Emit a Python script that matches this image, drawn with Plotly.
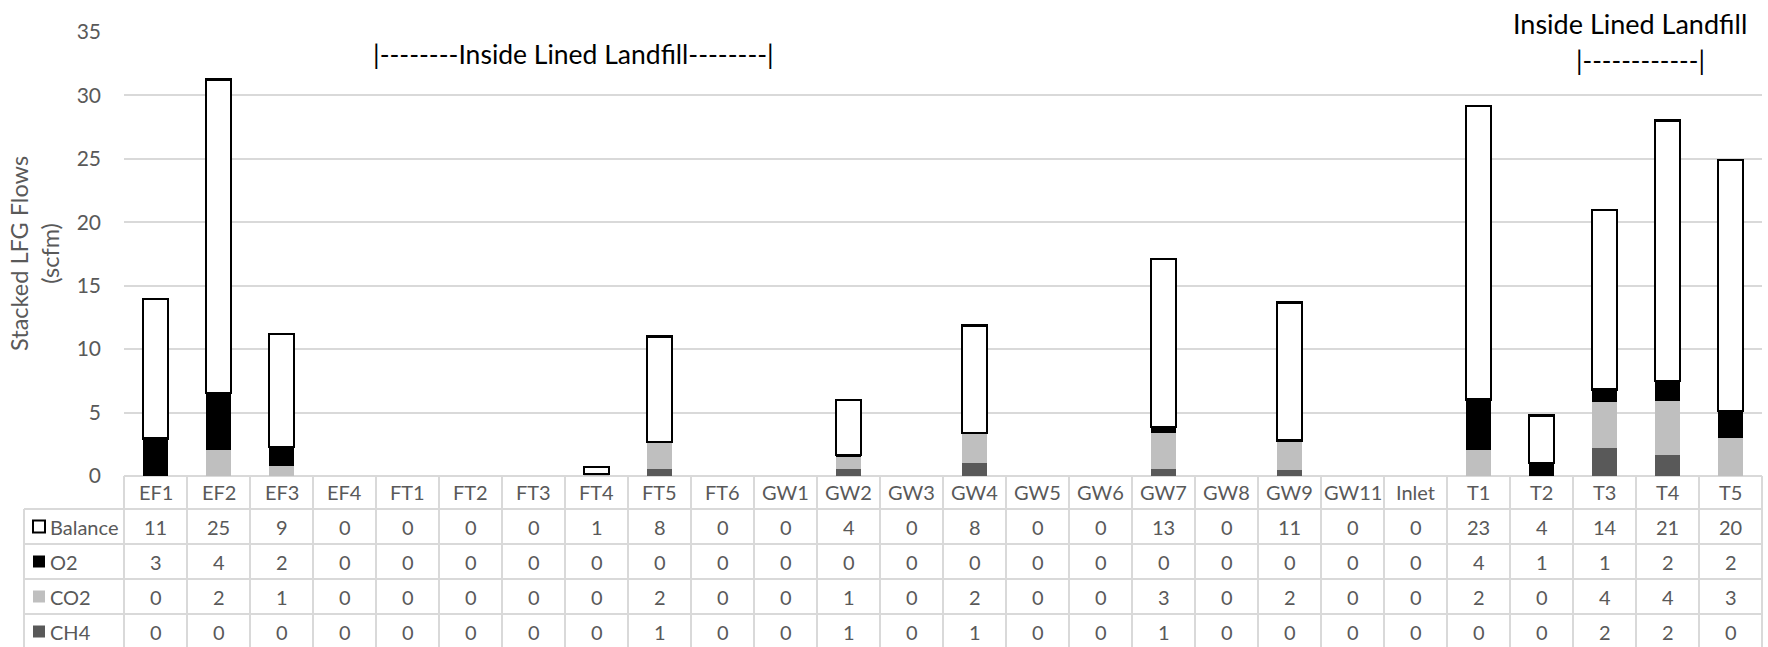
import plotly.graph_objects as go

categories = ["EF1", "EF2", "EF3", "EF4", "FT1", "FT2", "FT3", "FT4", "FT5", "FT6",
              "GW1", "GW2", "GW3", "GW4", "GW5", "GW6", "GW7", "GW8", "GW9", "GW11",
              "Inlet", "T1", "T2", "T3", "T4", "T5"]

ch4 = [0, 0, 0, 0, 0, 0, 0, 0, 0.52, 0,
       0, 0.52, 0, 1.0, 0, 0, 0.52, 0, 0.45, 0,
       0, 0, 0, 2.2, 1.63, 0]
co2 = [0, 2.07, 0.76, 0, 0, 0, 0, 0.15, 2.18, 0,
       0, 0.98, 0, 2.4, 0, 0, 2.9, 0, 2.36, 0,
       0, 2.02, 0, 3.6, 4.26, 3.0]
o2 = [2.94, 4.47, 1.52, 0, 0, 0, 0, 0, 0, 0,
      0, 0.15, 0, 0, 0, 0, 0.45, 0, 0, 0,
      0, 4.03, 1.02, 1.02, 1.58, 2.13]
balance = [11.0, 24.7, 8.9, 0, 0, 0, 0, 0.55, 8.3, 0,
           0, 4.35, 0, 8.47, 0, 0, 13.25, 0, 10.87, 0,
           0, 23.1, 3.75, 14.13, 20.55, 19.8]

series_names = ["Balance", "O2", "CO2", "CH4"]
y_ticks = [0, 5, 10, 15, 20, 25, 30, 35]

FONT = "Lato"
GREY_TXT = "#595959"
LINE = "#d9d9d9"
TFS = 20

# layout geometry (pixels)
W, H = 1768, 647
L, R, T, B = 124, 6, 32, 171
PW = W - L - R
PH = H - T - B
Y0 = T + PH  # pixel y of value 0


def py(Y):
    return (Y0 - Y) / PH


def px(X):
    return (X - L) / PW


def nz(v):
    return [x if x else None for x in v]


fig = go.Figure()
fig.add_trace(go.Bar(x=categories, y=nz(ch4), name="CH4", marker=dict(color="#595959", line=dict(width=0)), width=0.4))
fig.add_trace(go.Bar(x=categories, y=nz(co2), name="CO2", marker=dict(color="#bfbfbf", line=dict(width=0)), width=0.4))
fig.add_trace(go.Bar(x=categories, y=nz(o2), name="O2", marker=dict(color="#000000", line=dict(width=0)), width=0.4))
fig.add_trace(go.Bar(x=categories, y=nz(balance), name="Balance",
                     marker=dict(color="#ffffff", line=dict(color="#000000", width=2.5)), width=0.4))

shapes = []
annotations = []

# table geometry
row_edges = [Y0, 509, 544, 579, 614, 649]
n = len(categories)
col_w = PW / n
left_hdr = 24

shapes.append(dict(type="line", xref="paper", yref="paper", x0=0, x1=1, y0=py(row_edges[0]), y1=py(row_edges[0]),
                   line=dict(color=LINE, width=2), layer="below"))
for ye in row_edges[1:]:
    shapes.append(dict(type="line", xref="paper", yref="paper", x0=px(left_hdr), x1=1, y0=py(ye), y1=py(ye),
                       line=dict(color=LINE, width=2)))
for k in range(n + 1):
    xx = px(L + k * col_w)
    shapes.append(dict(type="line", xref="paper", yref="paper", x0=xx, x1=xx, y0=py(row_edges[0]), y1=py(row_edges[-1]),
                       line=dict(color=LINE, width=2)))
shapes.append(dict(type="line", xref="paper", yref="paper", x0=px(left_hdr), x1=px(left_hdr),
                   y0=py(row_edges[1]), y1=py(row_edges[-1]), line=dict(color=LINE, width=2)))

cy = (row_edges[0] + row_edges[1]) / 2
for i, c in enumerate(categories):
    annotations.append(dict(x=px(L + (i + 0.5) * col_w), y=py(cy), xref="paper", yref="paper", text=c,
                            showarrow=False, font=dict(family=FONT, size=TFS, color=GREY_TXT),
                            xanchor="center", yanchor="middle"))

table_vals = [balance, o2, co2, ch4]
key_fill = ["#ffffff", "#000000", "#bfbfbf", "#595959"]
key_line = ["#000000", "#000000", "#bfbfbf", "#595959"]
for r, (name, vals) in enumerate(zip(series_names, table_vals)):
    yc = (row_edges[r + 1] + row_edges[r + 2]) / 2
    shapes.append(dict(type="rect", xref="paper", yref="paper", x0=px(33), x1=px(45), y0=py(yc + 6), y1=py(yc - 6),
                       fillcolor=key_fill[r], line=dict(color=key_line[r], width=2 if r == 0 else 0)))
    annotations.append(dict(x=px(48), y=py(yc), xref="paper", yref="paper", text=name, showarrow=False,
                            font=dict(family=FONT, size=TFS, color=GREY_TXT), xanchor="left", yanchor="middle"))
    for i, v in enumerate(vals):
        annotations.append(dict(x=px(L + (i + 0.5) * col_w), y=py(yc), xref="paper", yref="paper",
                                text=str(int(v + 0.5)), showarrow=False,
                                font=dict(family=FONT, size=TFS, color=GREY_TXT),
                                xanchor="center", yanchor="middle"))

annotations.append(dict(x=px(34), y=py((T + Y0) / 2), xref="paper", yref="paper",
                        text="Stacked LFG Flows<br>(scfm)", textangle=-90, showarrow=False,
                        font=dict(family=FONT, size=23.5, color=GREY_TXT), xanchor="center", yanchor="middle"))

annotations.append(dict(x=px(573), y=py(54), xref="paper", yref="paper",
                        text="|--------Inside Lined Landfill--------|", showarrow=False,
                        font=dict(family=FONT, size=26.5, color="#000000"), xanchor="center", yanchor="middle"))
annotations.append(dict(x=px(1630), y=py(23), xref="paper", yref="paper",
                        text="Inside Lined Landfill", showarrow=False,
                        font=dict(family=FONT, size=27, color="#000000"), xanchor="center", yanchor="middle"))
annotations.append(dict(x=px(1640), y=py(60), xref="paper", yref="paper",
                        text="|------------|", showarrow=False,
                        font=dict(family=FONT, size=26, color="#000000"), xanchor="center", yanchor="middle"))

fig.update_layout(
    width=W, height=H,
    margin=dict(l=L, r=R, t=T, b=B, pad=0),
    barmode="stack",
    showlegend=False,
    plot_bgcolor="#ffffff",
    paper_bgcolor="#ffffff",
    shapes=shapes,
    annotations=annotations,
    xaxis=dict(showticklabels=False, showgrid=False, zeroline=False, showline=False,
               range=[-0.5, n - 0.5], fixedrange=True),
    yaxis=dict(range=[0, 35], tickvals=y_ticks, showgrid=True, gridcolor=LINE, gridwidth=2,
               zeroline=False, showline=False, ticks="", ticklabelstandoff=22,
               tickfont=dict(family=FONT, size=21, color=GREY_TXT), fixedrange=True),
)

fig.write_html("out.html", config={"displayModeBar": False},
               post_script="document.body.style.margin='0px';")
